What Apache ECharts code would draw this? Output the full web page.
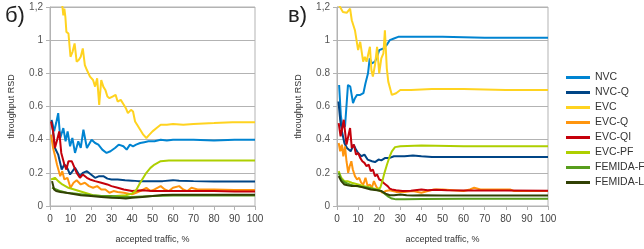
<!DOCTYPE html>
<html>
<head>
<meta charset="utf-8">
<script src="https://cdn.jsdelivr.net/npm/echarts@6/dist/echarts.min.js"></script>
<style>
    html, body { margin: 0; padding: 0; background: #fff; }
    #chart_con { width: 644px; height: 249px; }
</style>
</head>
<body>
<div id="chart_con"></div>
<script>
    // series names, in legend order
    var seriesNames = ['NVC', 'NVC-Q', 'EVC', 'EVC-Q', 'EVC-QI', 'EVC-PF', 'FEMIDA-F', 'FEMIDA-L'];
    var seriesColors = ['#0084d1', '#004586', '#ffd320', '#ff950e', '#c5000b', '#aecf00', '#579d1c', '#314004'];
    var xTicks = [0, 10, 20, 30, 40, 50, 60, 70, 80, 90, 100];
    var yTicks = [0, 0.2, 0.4, 0.6, 0.8, 1, 1.2];

    // panel б) : [accepted traffic %, throughput RSD]
    var nvcL = [[1,0.51],[2,0.45],[3,0.5],[4,0.56],[5,0.41],[6.5,0.47],[7.6,0.39],[8.6,0.45],[9.8,0.36],[10.9,0.41],[12.2,0.32],[13.8,0.39],[15,0.35],[16.3,0.46],[18,0.35],[20.3,0.4],[22,0.38],[23.6,0.37],[25.5,0.34],[27.6,0.32],[29.5,0.33],[31.7,0.35],[33.5,0.37],[35.8,0.36],[37.4,0.34],[39,0.37],[40.5,0.36],[42,0.37],[44,0.38],[46,0.385],[48,0.39],[51,0.39],[54,0.4],[57,0.395],[60,0.4],[70,0.4],[80,0.395],[90,0.4],[100,0.4]];
    var nvcQL = [[0.8,0.52],[1.5,0.45],[2.4,0.35],[4,0.31],[5.7,0.22],[7,0.25],[8,0.24],[9.8,0.19],[11,0.21],[12.2,0.23],[14.6,0.18],[16,0.2],[18,0.21],[20,0.19],[22,0.17],[24,0.18],[26,0.18],[28,0.165],[30,0.16],[33,0.16],[36.6,0.155],[40,0.153],[43,0.15],[50,0.15],[55,0.15],[60,0.156],[63,0.152],[70,0.15],[80,0.148],[90,0.148],[100,0.147]];
    var evcL = [[1,1.6],[3,1.45],[5,1.3],[6,1.21],[6.5,1.15],[7,1.19],[7.5,1.14],[8,1.05],[9,1.04],[10,0.9],[11,0.93],[12,0.98],[13,0.87],[14,0.88],[15,0.9],[16,0.95],[17,0.85],[18,0.82],[19.5,0.78],[21,0.76],[22,0.72],[23,0.77],[24,0.61],[25,0.76],[26,0.72],[27,0.7],[28,0.66],[29,0.65],[30.5,0.66],[32,0.67],[33,0.63],[34.5,0.64],[36,0.61],[37,0.59],[38,0.56],[39.5,0.58],[40.5,0.57],[41.5,0.51],[42.5,0.49],[44,0.46],[45.5,0.43],[47,0.41],[48.5,0.43],[50,0.45],[52,0.47],[54,0.49],[57,0.49],[60,0.495],[65,0.49],[70,0.495],[80,0.5],[89,0.505],[100,0.505]];
    var evcQL = [[0.5,0.43],[1.5,0.35],[2.5,0.3],[3.4,0.25],[5,0.18],[6,0.21],[7,0.16],[8.5,0.17],[10,0.11],[11.5,0.14],[13,0.155],[15,0.13],[17,0.14],[19,0.12],[21,0.11],[23,0.12],[25,0.1],[27,0.1],[29,0.08],[31,0.09],[33,0.085],[36,0.08],[40,0.07],[42,0.08],[44,0.09],[47,0.11],[49,0.09],[51,0.1],[54,0.12],[56,0.1],[58,0.09],[60,0.11],[63,0.12],[65,0.1],[67,0.09],[69,0.11],[72,0.1],[75,0.1],[80,0.1],[90,0.097],[100,0.097]];
    var evcQIL = [[0.5,0.51],[1.5,0.45],[2.4,0.35],[3.5,0.4],[4.5,0.45],[5.5,0.32],[7,0.25],[8,0.22],[9,0.27],[10.6,0.27],[12,0.23],[13,0.2],[14.6,0.17],[16,0.19],[18,0.17],[19.5,0.16],[22,0.15],[25,0.14],[28,0.13],[30,0.12],[33,0.11],[36,0.1],[40,0.09],[45,0.095],[50,0.09],[60,0.09],[70,0.09],[80,0.09],[90,0.088],[100,0.088]];
    var evcPFL = [[0.5,0.16],[2.4,0.17],[4,0.15],[6,0.13],[9,0.11],[13,0.095],[17,0.08],[21,0.065],[25,0.06],[28,0.055],[32,0.06],[37,0.065],[40,0.075],[42,0.095],[44,0.14],[45.5,0.17],[47,0.2],[49,0.23],[51,0.25],[54,0.27],[58,0.275],[70,0.275],[80,0.275],[100,0.275]];
    var femidaFL = [[1,0.11],[3,0.1],[5,0.09],[8,0.08],[12,0.075],[16,0.07],[20,0.065],[25,0.06],[30,0.06],[35,0.055],[40,0.055],[45,0.058],[50,0.06],[55,0.062],[60,0.063],[70,0.063],[100,0.063]];
    var femidaLL = [[1,0.15],[2,0.1],[3,0.09],[5,0.085],[8,0.08],[10,0.075],[15,0.065],[20,0.06],[25,0.055],[30,0.05],[34,0.048],[37,0.045],[40,0.05],[45,0.055],[50,0.06],[55,0.066],[60,0.068],[100,0.068]];

    // panel в)
    var nvcR = [[1,0.73],[1.8,0.55],[2.5,0.48],[3.8,0.48],[5.2,0.73],[6.3,0.72],[7.6,0.62],[8.5,0.65],[9.5,0.67],[11,0.67],[12.5,0.68],[13.5,0.74],[14.7,0.8],[15.5,0.89],[16.5,0.86],[18,0.87],[19,0.9],[20,0.94],[22,0.95],[23.5,0.97],[25,1.0],[27,1.01],[29,1.02],[35,1.02],[50,1.02],[70,1.015],[100,1.015]];
    var nvcQR = [[0.7,0.63],[1.5,0.52],[2.5,0.44],[3.5,0.38],[4.7,0.35],[5.5,0.36],[6.5,0.33],[7.9,0.37],[9,0.34],[10,0.32],[11.5,0.3],[13,0.31],[14.5,0.28],[16.6,0.27],[18,0.265],[19.7,0.28],[21,0.275],[22.9,0.29],[25,0.29],[27,0.3],[29,0.3],[32,0.3],[36,0.305],[40,0.3],[45,0.295],[50,0.295],[70,0.295],[100,0.295]];
    var evcR = [[1,1.21],[1.4,1.2],[2.8,1.17],[4.6,1.165],[6.2,1.19],[7,1.12],[8.5,1.06],[10,0.94],[11,0.99],[12.4,0.87],[13.2,0.9],[14,0.87],[15.6,0.96],[16.3,0.82],[17,0.78],[18,0.85],[19,0.96],[20,0.8],[21,0.89],[22,0.92],[22.7,1.06],[23.6,0.83],[24.3,0.75],[26,0.67],[28,0.68],[30,0.7],[35,0.7],[45,0.705],[60,0.705],[80,0.7],[100,0.7]];
    var evcQR = [[0.8,0.38],[1.5,0.33],[2.3,0.37],[3,0.3],[3.8,0.36],[4.5,0.27],[5.3,0.2],[6,0.24],[6.8,0.27],[7.5,0.22],[8.5,0.18],[9.5,0.16],[10.5,0.17],[11.5,0.14],[12.5,0.13],[13.5,0.17],[14.5,0.12],[15.5,0.13],[16.5,0.11],[17.5,0.15],[18.5,0.12],[19.5,0.1],[20.5,0.09],[21.5,0.08],[23,0.09],[25,0.095],[28,0.085],[32,0.085],[36,0.09],[40,0.08],[43,0.09],[46,0.1],[50,0.1],[55,0.095],[60,0.09],[63,0.1],[65,0.11],[68,0.1],[75,0.1],[82,0.1],[84,0.09],[100,0.09]];
    var evcQIR = [[0.8,0.5],[1.7,0.42],[2.5,0.47],[3.2,0.52],[3.8,0.45],[4.5,0.37],[5.5,0.43],[6.2,0.47],[7,0.35],[8,0.37],[9,0.31],[10,0.32],[11,0.29],[12,0.27],[13,0.26],[14,0.24],[15,0.25],[16,0.21],[17,0.22],[18,0.18],[19,0.19],[20,0.16],[21,0.155],[22,0.14],[23,0.13],[24,0.12],[25,0.105],[26,0.1],[28,0.095],[31,0.09],[35,0.092],[40,0.1],[43,0.095],[47,0.098],[52,0.095],[60,0.093],[80,0.093],[100,0.092]];
    var evcPFR = [[0.8,0.21],[2,0.17],[3.5,0.15],[5,0.15],[7,0.14],[10,0.13],[13,0.12],[16,0.11],[19,0.1],[20.5,0.11],[21.5,0.15],[22.5,0.2],[23.7,0.25],[25,0.3],[26,0.33],[27.5,0.355],[30,0.36],[40,0.365],[60,0.36],[80,0.36],[100,0.36]];
    var femidaFR = [[0.8,0.2],[2,0.16],[4,0.14],[6,0.13],[9,0.12],[12,0.115],[15,0.11],[18,0.1],[21,0.09],[23,0.07],[24.5,0.055],[26,0.045],[28,0.04],[32,0.04],[40,0.042],[60,0.043],[100,0.043]];
    var femidaLR = [[0.8,0.18],[2,0.15],[3.5,0.13],[5,0.125],[7,0.12],[10,0.12],[13,0.11],[16,0.1],[19,0.095],[21,0.09],[23,0.075],[25,0.065],[27,0.065],[30,0.07],[33,0.065],[36,0.063],[40,0.065],[50,0.063],[100,0.063]];

    var leftData = [nvcL, nvcQL, evcL, evcQL, evcQIL, evcPFL, femidaFL, femidaLL];
    var rightData = [nvcR, nvcQR, evcR, evcQR, evcQIR, evcPFR, femidaFR, femidaLR];

    var font = "'Liberation Sans', Arial, sans-serif";
    var gridColor = '#b3b3b3';

    function xAxisFor(idx) {
        return {
            type: 'value', gridIndex: idx,
            min: xTicks[0], max: xTicks[xTicks.length - 1], interval: 10,
            name: 'accepted traffic, %', nameLocation: 'middle', nameGap: 29,
            nameTextStyle: { fontFamily: font, fontSize: 9, color: '#333' },
            axisLine: { lineStyle: { color: gridColor } },
            axisTick: { show: true, length: 4, lineStyle: { color: gridColor } },
            axisLabel: { fontFamily: font, fontSize: 10, color: '#444', margin: 8 },
            splitLine: { show: false }
        };
    }
    function yAxisFor(idx) {
        return {
            type: 'value', gridIndex: idx,
            min: yTicks[0], max: yTicks[yTicks.length - 1], interval: 0.2,
            name: 'throughput RSD', nameLocation: 'middle', nameGap: 34, nameRotate: 90,
            nameTextStyle: { fontFamily: font, fontSize: 9, color: '#333' },
            axisLine: { show: true, lineStyle: { color: gridColor } },
            axisTick: { show: true, length: 4, lineStyle: { color: gridColor } },
            axisLabel: {
                fontFamily: font, fontSize: 10, color: '#555', margin: 7,
                formatter: function (v) {
                    var r = Math.round(v * 10) / 10;
                    return r === 1.2 ? '1,2' : String(r);
                }
            },
            splitLine: { show: true, lineStyle: { color: gridColor, width: 1 } }
        };
    }

    var series = [];
    [leftData, rightData].forEach(function (set, g) {
        set.forEach(function (d, i) {
            series.push({
                name: seriesNames[i], type: 'line',
                xAxisIndex: g, yAxisIndex: g,
                data: d, showSymbol: false, symbol: 'none',
                clip: true,
                lineStyle: { width: 2, color: seriesColors[i] },
                itemStyle: { color: seriesColors[i] }
            });
        });
    });

    var chart = echarts.init(document.getElementById('chart_con'));
    chart.setOption({
        animation: false,
        title: [
            { text: 'б)', left: 0, top: 0, textStyle: { fontFamily: font, fontSize: 22, fontWeight: 'normal', color: '#222' } },
            { text: 'в)', left: 283, top: 0, textStyle: { fontFamily: font, fontSize: 22, fontWeight: 'normal', color: '#222' } }
        ],
        legend: {
            orient: 'vertical', left: 566, top: 72, padding: 0,
            itemWidth: 24, itemHeight: 3, itemGap: 4, icon: 'rect',
            textStyle: { fontFamily: font, fontSize: 10.5, color: '#333' },
            data: seriesNames
        },
        grid: [
            { left: 50, right: 389, top: 7, bottom: 40, show: true, borderColor: gridColor, borderWidth: 1 },
            { left: 337, right: 96, top: 7, bottom: 40, show: true, borderColor: gridColor, borderWidth: 1 }
        ],
        xAxis: [xAxisFor(0), xAxisFor(1)],
        yAxis: [yAxisFor(0), yAxisFor(1)],
        series: series
    });
</script>
</body>
</html>
